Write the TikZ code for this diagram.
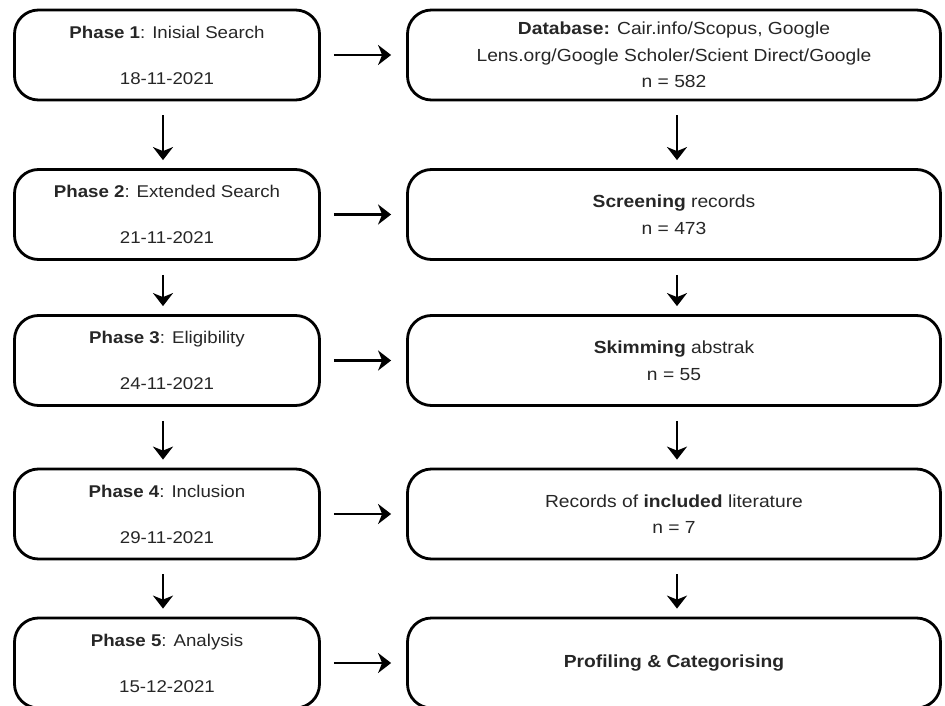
\documentclass[tikz,border=0pt]{standalone}
\usepackage{fontspec}
\setmainfont[FakeStretch=1.1]{Liberation Sans}
\usetikzlibrary{arrows.meta}
\begin{document}
\begin{tikzpicture}[x=1pt,y=1pt,
  box/.style={draw=black, line width=2.8pt, rounded corners=24pt, align=center, text=black!85, inner sep=0pt},
  lbox/.style={box, minimum width=305pt, minimum height=90pt, font=\fontsize{17}{46}\selectfont},
  rbox/.style={box, minimum width=533pt, minimum height=90pt, font=\fontsize{17.5}{26.5}\selectfont},
  arr/.style={line width=2.6pt, -{Stealth[length=13pt,width=20pt,inset=4pt]}}]
\useasboundingbox (0,0) rectangle (945,-706);
\node[lbox] (L1) at (167,-55) {\textbf{Phase 1}: Inisial Search\\18-11-2021};
\node[lbox] (L2) at (167,-214.5) {\textbf{Phase 2}: Extended Search\\21-11-2021};
\node[lbox] (L3) at (167,-360.5) {\textbf{Phase 3}: Eligibility\\24-11-2021};
\node[lbox] (L4) at (167,-514) {\textbf{Phase 4}: Inclusion\\29-11-2021};
\node[lbox] (L5) at (167,-663) {\textbf{Phase 5}: Analysis\\15-12-2021};
\node[rbox] (R1) at (674,-55) {\textbf{Database:} Cair.info/Scopus, Google\\Lens.org/Google Scholer/Scient Direct/Google\\n = 582};
\node[rbox] (R2) at (674,-214.5) {\textbf{Screening} records\\n = 473};
\node[rbox] (R3) at (674,-360.5) {\textbf{Skimming} abstrak\\n = 55};
\node[rbox] (R4) at (674,-514) {Records of \textbf{included} literature\\n = 7};
\node[rbox] (R5) at (674,-663) {\textbf{Profiling \& Categorising}};
\foreach \a/\b in {1/2,2/3,3/4,4/5}{
  \draw[arr] ([xshift=-4pt,yshift=-14pt]L\a.south) -- ([xshift=-4pt,yshift=8pt]L\b.north);
  \draw[arr] ([xshift=3pt,yshift=-14pt]R\a.south) -- ([xshift=3pt,yshift=8pt]R\b.north);
}
\foreach \a in {1,...,5}{
  \draw[arr] ([xshift=13pt]L\a.east) -- ([xshift=-15pt]R\a.west);
}
\end{tikzpicture}
\end{document}
